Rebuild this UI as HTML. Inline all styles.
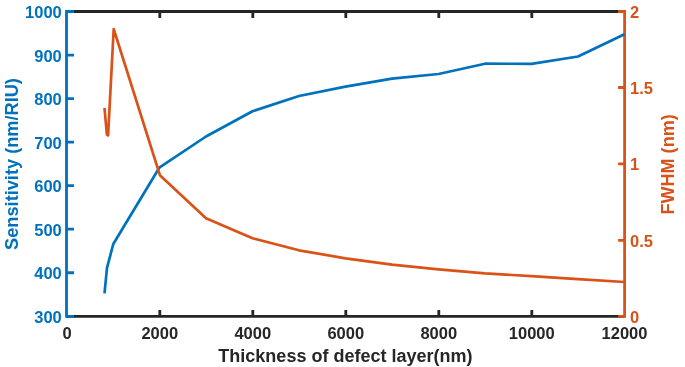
<!DOCTYPE html>
<html><head><meta charset="utf-8"><title>Sensitivity and FWHM vs thickness</title>
<style>
html,body{margin:0;padding:0;background:#fff;}
body{width:685px;height:367px;overflow:hidden;}
svg{display:block;}
text{font-family:"Liberation Sans",sans-serif;font-weight:bold;font-size:16.5px;}
.b{fill:#0072BD}.o{fill:#D95319}.k{fill:#262626}
</style></head><body>
<svg width="685" height="367" viewBox="0 0 685 367">
<rect width="685" height="367" fill="#fff"/>
<!-- x axis lines (top & bottom) -->
<g stroke="#262626" stroke-width="2.8" fill="none">
<path d="M66.5 11.5H624.5M66.5 316.3H624.5"/>
<path d="M159.8 316.3v-6.4M252.8 316.3v-6.4M345.8 316.3v-6.4M438.8 316.3v-6.4M531.8 316.3v-6.4"/>
<path d="M159.8 11.5v6.4M252.8 11.5v6.4M345.8 11.5v6.4M438.8 11.5v6.4M531.8 11.5v6.4"/>
</g>
<!-- left axis -->
<g stroke="#0072BD" stroke-width="2.8" fill="none">
<path d="M66.5 10.1V317.7"/>
<path d="M66.5 11.5h7.5M66.5 55.04h7.5M66.5 98.59h7.5M66.5 142.13h7.5M66.5 185.67h7.5M66.5 229.21h7.5M66.5 272.76h7.5M66.5 316.3h7.5"/>
</g>
<!-- right axis -->
<g stroke="#D95319" stroke-width="2.8" fill="none">
<path d="M624.6 10.1V317.7"/>
<path d="M624.5 11.5h-6.4M624.5 87.5h-6.4M624.5 163.8h-6.4M624.5 240.4h-6.4M624.5 316.3h-6.4"/>
</g>
<!-- curves -->
<polyline fill="none" stroke="#0072BD" stroke-width="2.7" stroke-linejoin="round" points="104.5,293.3 107,267.8 113.3,244 159.3,167.7 206,136.5 252.5,111.2 299,96 345.5,86.6 392,78.6 438.5,74 485,63.7 531.5,63.8 578,56.5 624.5,34.3"/>
<polyline fill="none" stroke="#D95319" stroke-width="2.7" stroke-linejoin="round" points="104.5,108 106.9,134.6 108.1,135.4 113.7,29 159.9,175.2 206,218.2 252.5,238.3 299,250.3 345.5,258.3 392,264.7 438.5,269.3 485,273.3 531.5,276.2 578,279.2 624.5,282"/>
<g class="b" text-anchor="end">
<text x="61.8" y="18">1000</text><text x="61.8" y="61.54">900</text><text x="61.8" y="105.09">800</text><text x="61.8" y="148.63">700</text><text x="61.8" y="192.17">600</text><text x="61.8" y="235.71">500</text><text x="61.8" y="279.26">400</text><text x="61.8" y="322.8">300</text>
</g>
<g class="o">
<text x="630" y="18.3">2</text><text x="630" y="94.1">1.5</text><text x="630" y="170.2">1</text><text x="630" y="247.3">0.5</text><text x="630" y="323.2">0</text>
</g>
<g class="k" text-anchor="middle">
<text x="67" y="339.3">0</text><text x="159.8" y="339.3">2000</text><text x="252.8" y="339.3">4000</text><text x="345.8" y="339.3">6000</text><text x="438.8" y="339.3">8000</text><text x="531.8" y="339.3">10000</text><text x="624.5" y="339.3">12000</text>
<text x="345.4" y="361.6" style="font-size:18px">Thickness of defect layer(nm)</text>
</g>
<text class="b" text-anchor="middle" transform="translate(17.8,164) rotate(-90)" style="font-size:18.2px">Sensitivity (nm/RIU)</text>
<text class="o" text-anchor="middle" transform="translate(674.1,164.4) rotate(-90)" style="font-size:18.05px">FWHM (nm)</text>
</svg>
</body></html>
